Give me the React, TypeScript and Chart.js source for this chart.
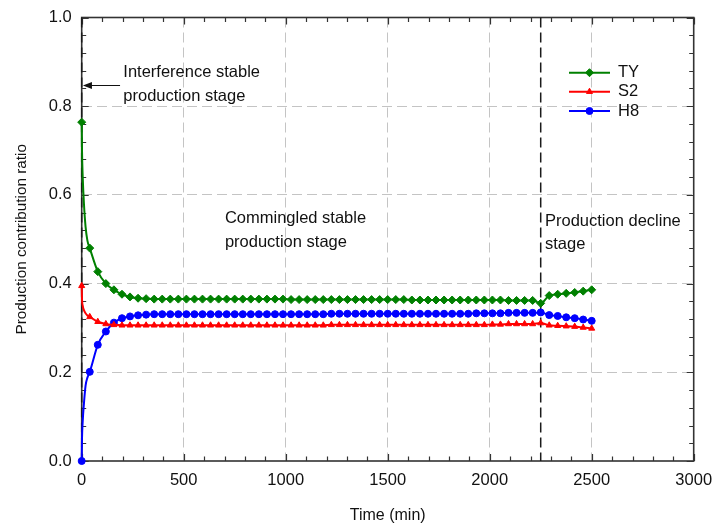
import React, { useEffect, useRef } from 'react';
import { Chart, registerables } from 'chart.js';

Chart.register(...registerables);

// ---------------- data ----------------
const timeMin = [
  0, 39.5, 78.9, 118.4, 157.9, 197.4, 236.8, 276.3, 315.8, 355.3,
  394.7, 434.2, 473.7, 513.2, 552.6, 592.1, 631.6, 671.1, 710.5, 750.0,
  789.5, 828.9, 868.4, 907.9, 947.4, 986.8, 1026.3, 1065.8, 1105.3, 1144.7,
  1184.2, 1223.7, 1263.2, 1302.6, 1342.1, 1381.6, 1421.1, 1460.5, 1500.0, 1539.5,
  1578.9, 1618.4, 1657.9, 1697.4, 1736.8, 1776.3, 1815.8, 1855.3, 1894.7, 1934.2,
  1973.7, 2013.2, 2052.6, 2092.1, 2131.6, 2171.1, 2210.5, 2250.0, 2291.7, 2333.3,
  2375.0, 2416.7, 2458.3, 2500.0,
];

const tyRatio = [
  0.764, 0.480, 0.427, 0.400, 0.386, 0.376, 0.370, 0.367, 0.366, 0.365,
  0.365, 0.365, 0.365, 0.365, 0.365, 0.365, 0.365, 0.365, 0.365, 0.365,
  0.365, 0.365, 0.365, 0.365, 0.365, 0.365, 0.364, 0.364, 0.364, 0.364,
  0.364, 0.364, 0.364, 0.364, 0.364, 0.364, 0.364, 0.364, 0.364, 0.364,
  0.364, 0.363, 0.363, 0.363, 0.363, 0.363, 0.363, 0.363, 0.363, 0.363,
  0.363, 0.363, 0.363, 0.362, 0.362, 0.362, 0.362, 0.3555, 0.373, 0.376,
  0.378, 0.380, 0.383, 0.386,
];

const s2Ratio = [
  0.395, 0.325, 0.314, 0.309, 0.307, 0.306, 0.306, 0.306, 0.306, 0.306,
  0.306, 0.306, 0.306, 0.306, 0.306, 0.306, 0.306, 0.306, 0.306, 0.306,
  0.306, 0.306, 0.306, 0.306, 0.306, 0.306, 0.306, 0.306, 0.306, 0.306,
  0.306, 0.307, 0.307, 0.307, 0.307, 0.307, 0.307, 0.307, 0.307, 0.307,
  0.307, 0.307, 0.307, 0.307, 0.307, 0.307, 0.307, 0.307, 0.307, 0.307,
  0.307, 0.308, 0.308, 0.309, 0.309, 0.309, 0.309, 0.311, 0.306, 0.305,
  0.304, 0.303, 0.301, 0.299,
];

const h8Ratio = [
  0.000, 0.201, 0.262, 0.292, 0.312, 0.322, 0.326, 0.3285, 0.330, 0.331,
  0.331, 0.331, 0.331, 0.331, 0.331, 0.331, 0.331, 0.331, 0.331, 0.331,
  0.331, 0.331, 0.331, 0.331, 0.331, 0.331, 0.331, 0.331, 0.331, 0.331,
  0.331, 0.332, 0.332, 0.332, 0.332, 0.332, 0.332, 0.332, 0.332, 0.332,
  0.332, 0.332, 0.332, 0.332, 0.332, 0.332, 0.332, 0.332, 0.332, 0.333,
  0.333, 0.333, 0.333, 0.334, 0.334, 0.334, 0.334, 0.335, 0.329, 0.327,
  0.324, 0.322, 0.319, 0.316,
];

// early unmarked points (between t = 0 and the first marker)
const earlyTime = [1.5, 5, 11, 19, 28];
const tyEarly = [0.70, 0.64, 0.58, 0.528, 0.497];
const s2Early = [0.365, 0.350, 0.340, 0.333, 0.328];
const h8Early = [0.050, 0.090, 0.130, 0.170, 0.188];

const seriesNames = ['TY', 'S2', 'H8'];
const seriesColors = ['#008000', '#ff0000', '#0000ff'];
const seriesMarkers = ['rectRot', 'triangle', 'circle'];

const xTickValues = [0, 500, 1000, 1500, 2000, 2500, 3000];
const yTickValues = [0, 0.2, 0.4, 0.6, 0.8, 1.0];
const xMinorStep = 100;
const yMinorStep = 0.04;

const stageLinesMin = [0, 2250];

const annotations = [
  { lines: ['Interference stable', 'production stage'], x: 204, y: [0.8652, 0.8126] },
  { lines: ['Commingled stable', 'production stage'], x: 702, y: [0.536, 0.4834] },
  { lines: ['Production decline', 'stage'], x: 2271, y: [0.5306, 0.478] },
];
const arrow = { fromX: 188, toX: 6, y: 0.8478 };

const FONT = "'Liberation Sans', Arial, sans-serif";

function buildPoints(main: number[], early: number[]) {
  const pts: { x: number; y: number }[] = [{ x: timeMin[0], y: main[0] }];
  early.forEach((v, i) => pts.push({ x: earlyTime[i], y: v }));
  for (let i = 1; i < timeMin.length; i++) pts.push({ x: timeMin[i], y: main[i] });
  return pts;
}

function drawMarker(ctx: CanvasRenderingContext2D, style: string, x: number, y: number, r: number, color: string) {
  ctx.save();
  ctx.fillStyle = color;
  ctx.strokeStyle = color;
  ctx.lineWidth = 1;
  ctx.beginPath();
  if (style === 'rectRot') {
    ctx.moveTo(x, y - r);
    ctx.lineTo(x + r, y);
    ctx.lineTo(x, y + r);
    ctx.lineTo(x - r, y);
    ctx.closePath();
  } else if (style === 'triangle') {
    ctx.moveTo(x, y - r);
    ctx.lineTo(x + r * Math.cos(Math.PI / 6), y + r * 0.5);
    ctx.lineTo(x - r * Math.cos(Math.PI / 6), y + r * 0.5);
    ctx.closePath();
  } else {
    ctx.arc(x, y, r, 0, Math.PI * 2);
  }
  ctx.fill();
  ctx.stroke();
  ctx.restore();
}

const overlayPlugin = {
  id: 'overlay',
  beforeDatasetsDraw(chart: any) {
    const { ctx, chartArea } = chart;
    const { left, right, top, bottom } = chartArea;
    const xs = chart.scales.x;
    const ys = chart.scales.y;
    ctx.save();
    // frame
    ctx.strokeStyle = '#333333';
    ctx.lineWidth = 1.6;
    ctx.strokeRect(left, top, right - left, bottom - top);
    // inward ticks
    ctx.lineWidth = 1.2;
    ctx.beginPath();
    for (let v = 0; v <= 3000 + 1e-6; v += xMinorStep) {
      const major = Math.round(v) % 500 === 0;
      const len = major ? 7 : 4.5;
      const px = Math.round(xs.getPixelForValue(v)) + 0.5;
      ctx.moveTo(px, bottom);
      ctx.lineTo(px, bottom - len);
      ctx.moveTo(px, top);
      ctx.lineTo(px, top + len);
    }
    for (let k = 0; k <= 25; k++) {
      const v = k * yMinorStep;
      const major = k % 5 === 0;
      const len = major ? 7 : 4.5;
      const py = Math.round(ys.getPixelForValue(v)) + 0.5;
      ctx.moveTo(left, py);
      ctx.lineTo(left + len, py);
      ctx.moveTo(right, py);
      ctx.lineTo(right - len, py);
    }
    ctx.stroke();
    // stage separator lines
    ctx.setLineDash([10, 5]);
    ctx.strokeStyle = '#1a1a1a';
    ctx.lineWidth = 1.5;
    stageLinesMin.forEach((v) => {
      const px = xs.getPixelForValue(v);
      ctx.beginPath();
      ctx.moveTo(px, top);
      ctx.lineTo(px, bottom);
      ctx.stroke();
    });
    ctx.restore();
  },
  afterDraw(chart: any) {
    const { ctx, chartArea } = chart;
    const xs = chart.scales.x;
    const ys = chart.scales.y;
    ctx.save();
    // annotations
    ctx.font = `16.5px ${FONT}`;
    ctx.fillStyle = '#111';
    ctx.textAlign = 'left';
    ctx.textBaseline = 'alphabetic';
    annotations.forEach((a) => {
      const px = xs.getPixelForValue(a.x);
      a.lines.forEach((t, i) => ctx.fillText(t, px, ys.getPixelForValue(a.y[i])));
    });
    // arrow
    const ay = Math.round(ys.getPixelForValue(arrow.y)) + 0.5;
    const ax1 = xs.getPixelForValue(arrow.fromX);
    const ax2 = xs.getPixelForValue(arrow.toX);
    ctx.strokeStyle = '#111';
    ctx.lineWidth = 1;
    ctx.beginPath();
    ctx.moveTo(ax1, ay);
    ctx.lineTo(ax2 + 8, ay);
    ctx.stroke();
    ctx.beginPath();
    ctx.moveTo(ax2, ay);
    ctx.lineTo(ax2 + 9, ay - 3.5);
    ctx.lineTo(ax2 + 9, ay + 3.5);
    ctx.closePath();
    ctx.fillStyle = '#111';
    ctx.fill();
    // legend
    const lx1 = chartArea.right - 124.7;
    const lx2 = chartArea.right - 83.7;
    const tx = chartArea.right - 75.7;
    const rows = [55.2, 74.2, 93.5];
    seriesNames.forEach((name, i) => {
      const y = chartArea.top + rows[i];
      ctx.strokeStyle = seriesColors[i];
      ctx.lineWidth = 2;
      ctx.beginPath();
      ctx.moveTo(lx1, y);
      ctx.lineTo(lx2, y);
      ctx.stroke();
      drawMarker(ctx, seriesMarkers[i], (lx1 + lx2) / 2, y, seriesMarkers[i] === 'rectRot' ? 4 : 3.5, seriesColors[i]);
      ctx.fillStyle = '#111';
      ctx.font = `16.5px ${FONT}`;
      ctx.textBaseline = 'middle';
      ctx.fillText(name, tx, y);
    });
    ctx.restore();
  },
};

export default function App() {
  const ref = useRef<HTMLCanvasElement>(null);
  useEffect(() => {
    if (!ref.current) return;
    const seriesData = [
      buildPoints(tyRatio, tyEarly),
      buildPoints(s2Ratio, s2Early),
      buildPoints(h8Ratio, h8Early),
    ];
    const radii = seriesData[0].map((_, i) => (i >= 1 && i <= earlyTime.length ? 0 : 3.5));
    const chart = new Chart(ref.current, {
      type: 'line',
      data: {
        datasets: seriesNames.map((name, i) => ({
          label: name,
          data: seriesData[i],
          borderColor: seriesColors[i],
          backgroundColor: seriesColors[i],
          borderWidth: 2,
          pointStyle: seriesMarkers[i] as any,
          pointRadius: radii.map((r) => (r && seriesMarkers[i] === 'rectRot' ? 4 : r)),
          pointBorderWidth: 1,
          pointHoverRadius: 0,
          tension: 0,
          cubicInterpolationMode: 'monotone' as any,
          clip: 8,
        })),
      },
      options: {
        animation: false,
        responsive: false,
        maintainAspectRatio: false,
        events: [],
        layout: { padding: { top: 17.5, right: 21.3, left: 0, bottom: 0 } },
        plugins: { legend: { display: false }, tooltip: { enabled: false } },
        scales: {
          x: {
            type: 'linear',
            min: 0,
            max: 3000,
            afterFit: (s: any) => {
              s.height = 67;
              s.paddingLeft = 0;
              s.paddingRight = 0;
            },
            afterBuildTicks: (s: any) => {
              s.ticks = xTickValues.map((v) => ({ value: v }));
            },
            ticks: {
              padding: 10,
              color: '#111',
              font: { family: FONT, size: 16.5 },
              maxRotation: 0,
              autoSkip: false,
              callback: (v: any) => String(v),
            },
            grid: {
              drawTicks: false,
              lineWidth: 1,
              color: (c: any) =>
                c.tick && (c.tick.value === 0 || c.tick.value === 3000) ? 'rgba(0,0,0,0)' : '#c4c4c4',
            },
            border: { display: false, dash: [10, 5] },
            title: {
              display: true,
              text: 'Time (min)',
              color: '#111',
              font: { family: FONT, size: 16 },
              padding: { top: 0, bottom: 2.5 },
            },
          },
          y: {
            type: 'linear',
            min: 0,
            max: 1,
            afterFit: (s: any) => {
              s.width = 81.7;
              s.paddingTop = 0;
              s.paddingBottom = 0;
            },
            afterBuildTicks: (s: any) => {
              s.ticks = yTickValues.map((v) => ({ value: v }));
            },
            ticks: {
              padding: 10,
              color: '#111',
              font: { family: FONT, size: 16.5 },
              callback: (v: any) => Number(v).toFixed(1),
            },
            grid: {
              drawTicks: false,
              lineWidth: 1,
              color: (c: any) =>
                c.tick && (Math.abs(c.tick.value) < 1e-9 || Math.abs(c.tick.value - 1) < 1e-9)
                  ? 'rgba(0,0,0,0)'
                  : '#c4c4c4',
            },
            border: { display: false, dash: [10, 5] },
            title: {
              display: true,
              text: 'Production contribution ratio',
              color: '#111',
              font: { family: FONT, size: 15.3 },
              padding: { top: 13, bottom: 0 },
            },
          },
        },
      } as any,
      plugins: [overlayPlugin],
    });
    return () => chart.destroy();
  }, []);
  return (
    <div style={{ position: 'absolute', left: 0, top: 0, width: 715, height: 528 }}>
      <canvas ref={ref} width={715} height={528} style={{ display: 'block' }} />
    </div>
  );
}
